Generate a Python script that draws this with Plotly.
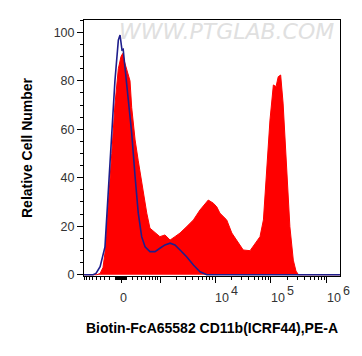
import numpy as np
import plotly.graph_objects as go

# ---- data (x in arcsinh-scaled display channel, y = relative cell number) ----
COFACTOR = 418.0

sample_channel = [-1.52, -0.99, -0.86, -0.74, -0.66, -0.52, -0.38, -0.25, -0.11, 0.00, 0.07,
                  0.14, 0.23, 0.37, 0.44, 0.58, 0.71, 0.92, 1.06, 1.19, 1.40, 1.60, 1.81,
                  2.02, 2.22, 2.43, 2.70, 2.98, 3.25, 3.42, 3.59, 3.80, 3.94, 4.07, 4.35,
                  4.56, 4.76, 5.03, 5.31, 5.51, 5.72, 5.86, 6.00, 6.13, 6.27, 6.38, 6.47,
                  6.57, 6.67, 6.82, 6.95, 7.09, 7.20, 7.30, 9.01]
sample_count = [0, 0, 0.5, 3, 9, 28, 50, 70, 85, 90, 91.3,
                88, 84.4, 80, 69, 55.6, 47, 33.7, 25.4, 19.2, 17.2, 15.7, 16.4,
                14.3, 15.7, 17.2, 19.8, 22.6, 26.7, 29, 30.8, 29.5, 28, 25.4, 22.6,
                17.2, 14.3, 10.2, 9.9, 13, 15.7, 22.6, 43.2, 63.8, 78.3, 77.6, 81.7,
                82.4, 70.8, 43.2, 19.8, 6, 1.5, 0, 0]

isotype_channel = [-1.52, -1.15, -1.03, -0.86, -0.66, -0.52, -0.38, -0.25, -0.11, -0.04, 0.04,
                   0.09, 0.16, 0.30, 0.44, 0.58, 0.71, 0.85, 0.99, 1.19, 1.40, 1.60, 1.81,
                   2.02, 2.22, 2.43, 2.70, 2.98, 3.25, 3.53, 3.79, 9.01]
isotype_count = [0, 0, 0.5, 3.3, 11.5, 36.3, 57, 80, 96.8, 98.9, 92.7,
                 93, 85.8, 73.4, 58.4, 40.4, 25.4, 15.7, 11.5, 9.5, 9.5, 10.9, 12.3,
                 13, 12.3, 10.2, 7.4, 4, 1.2, 0, 0, 0]

x_major_values = [0, 1e3, 1e4, 1e5, 1e6]
x_label_values = [0, 1e4, 1e5, 1e6]
x_label_bases = ["0", "10", "10", "10"]
x_label_exponents = ["", "4", "5", "6"]
x_minor_values = ([v for v in range(-90, 100, 10) if v != 0]
                  + [v for v in range(-900, 0, 100)] + [v for v in range(100, 1000, 100)]
                  + [k * 1e3 for k in range(2, 10)] + [k * 1e4 for k in range(2, 10)]
                  + [k * 1e5 for k in range(2, 10)] + [k * 1e6 for k in range(2, 3)])

y_tick_values = [0, 20, 40, 60, 80, 100]

x_title = "Biotin-FcA65582 CD11b(ICRF44),PE-A"
y_title = "Relative Cell Number"
watermark = "WWW.PTGLAB.COM"


def to_channel(v):
    return float(np.arcsinh(v / COFACTOR))


FONT = "Liberation Sans, Arial, sans-serif"

fig = go.Figure()
fig.add_trace(go.Scatter(x=sample_channel, y=sample_count, mode="lines",
                         line=dict(color="#ff0000", width=1), fill="tozeroy",
                         fillcolor="#ff0000", hoverinfo="skip", showlegend=False))
fig.add_trace(go.Scatter(x=isotype_channel, y=isotype_count, mode="lines",
                         line=dict(color="#1e1e8c", width=1.6),
                         hoverinfo="skip", showlegend=False))

annotations = []
for v, base, exp in zip(x_label_values, x_label_bases, x_label_exponents):
    xc = to_channel(v)
    if exp == "":
        annotations.append(dict(x=xc, xref="x", y=0, yref="paper", yanchor="top",
                                xanchor="center", xshift=2, yshift=-13, text=base,
                                showarrow=False, font=dict(family=FONT, size=12.5, color="#333")))
    else:
        annotations.append(dict(x=xc, xref="x", y=0, yref="paper", yanchor="top",
                                xanchor="left", xshift=-2, yshift=-13, text=base,
                                showarrow=False, font=dict(family=FONT, size=12.5, color="#333")))
        annotations.append(dict(x=xc, xref="x", y=0, yref="paper", yanchor="top",
                                xanchor="left", xshift=14, yshift=-6, text=exp,
                                showarrow=False, font=dict(family=FONT, size=12.5, color="#333")))

annotations.append(dict(x=0.5, xref="paper", y=0, yref="paper", yanchor="middle",
                        xanchor="center", yshift=-52, text="<b>%s</b>" % x_title,
                        showarrow=False, font=dict(family=FONT, size=14, color="black")))
annotations.append(dict(x=0, xref="paper", y=0.5, yref="paper", yanchor="middle",
                        xanchor="center", xshift=-57, textangle=-90, text="<b>%s</b>" % y_title,
                        showarrow=False, font=dict(family=FONT, size=14, color="black")))
annotations.append(dict(x=0.555, xref="paper", y=0.955, yref="paper", yanchor="middle",
                        xanchor="center", text=watermark, showarrow=False,
                        font=dict(family="DejaVu Sans", size=22, color="#e0e0e0", style="italic")))

# the page body adds an 8 px margin, so the figure is sized to fit inside the window
fig.update_layout(
    width=346, height=340,
    margin=dict(l=76, r=14, t=12, b=72),
    paper_bgcolor="white", plot_bgcolor="white",
    annotations=annotations,
    xaxis=dict(range=[-1.523, 9.012], showgrid=False, zeroline=False,
               showline=True, linecolor="black", linewidth=1, mirror=True,
               tickmode="array", tickvals=[to_channel(v) for v in x_major_values],
               showticklabels=False, ticks="outside", ticklen=6, tickcolor="black",
               minor=dict(tickmode="array", tickvals=[to_channel(v) for v in x_minor_values],
                          ticks="outside", ticklen=3, tickcolor="black", showgrid=False)),
    yaxis=dict(range=[-0.54, 105.1], showgrid=False, zeroline=False,
               showline=True, linecolor="black", linewidth=1, mirror=True,
               tickmode="array", tickvals=y_tick_values,
               ticks="outside", ticklen=6, tickcolor="black",
               tickfont=dict(family=FONT, size=12.5, color="#333"),
               minor=dict(dtick=5, ticks="outside", ticklen=3, tickcolor="black", showgrid=False)),
)

fig.write_html("out.html")
